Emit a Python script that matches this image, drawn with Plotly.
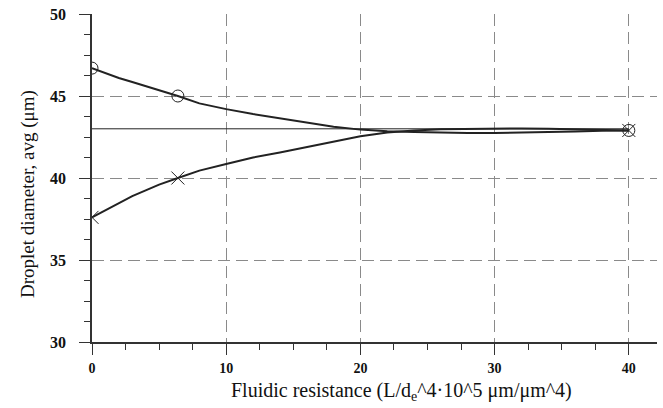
import plotly.graph_objects as go

# Data
x_vals = [0, 1, 2, 3, 4, 5, 6.4, 8, 10, 12, 14, 16, 18, 20, 22, 24, 26, 28, 30, 32, 34, 36, 38, 40]
upper_y = [46.7, 46.4, 46.1, 45.85, 45.6, 45.35, 45.0, 44.55, 44.2, 43.9, 43.65, 43.4, 43.12, 42.95,
           42.85, 42.8, 42.75, 42.74, 42.74, 42.76, 42.8, 42.84, 42.88, 42.9]
lower_y = [37.6, 38.05, 38.5, 38.9, 39.25, 39.6, 40.0, 40.45, 40.85, 41.25, 41.55, 41.88, 42.22, 42.54,
           42.78, 42.9, 42.97, 43.0, 43.02, 43.02, 43.0, 42.97, 42.93, 42.9]
marker_x = [0, 6.4, 40]
upper_marker_y = [46.7, 45.0, 42.9]
lower_marker_y = [37.6, 40.0, 42.9]
ref_x = [0, 40]
ref_y = [43, 43]
x_ticks = [0, 10, 20, 30, 40]
y_ticks = [30, 35, 40, 45, 50]

FONT = "Liberation Serif"
LINE = "#222222"

fig = go.Figure()
fig.add_trace(go.Scatter(x=ref_x, y=ref_y, mode="lines", line=dict(color=LINE, width=1), showlegend=False))
fig.add_trace(go.Scatter(x=x_vals, y=upper_y, mode="lines", line=dict(color=LINE, width=2), showlegend=False))
fig.add_trace(go.Scatter(x=x_vals, y=lower_y, mode="lines", line=dict(color=LINE, width=2), showlegend=False))
fig.add_trace(go.Scatter(x=marker_x, y=upper_marker_y, mode="markers",
                         marker=dict(symbol="circle-open", size=12, color=LINE, line=dict(width=1, color=LINE)),
                         showlegend=False))
fig.add_trace(go.Scatter(x=marker_x, y=lower_marker_y, mode="markers",
                         marker=dict(symbol="x-thin-open", size=13, color=LINE, line=dict(width=1, color=LINE)),
                         showlegend=False))

fig.update_layout(
    width=663, height=408,
    margin=dict(l=92, r=6, t=14, b=66),
    paper_bgcolor="white", plot_bgcolor="white",
    font=dict(family=FONT, color="#111111"),
    xaxis=dict(
        range=[0, 42.1], tickvals=x_ticks, ticks="outside", ticklen=11, tickwidth=1.2, tickcolor="#333",
        showline=True, linecolor="#333", linewidth=1.5,
        showgrid=True, gridcolor="#8a8a8a", gridwidth=1, griddash="12px,6px",
        zeroline=False, tickfont=dict(family=FONT, size=14, weight="bold"),
        ticklabelstandoff=1,
        minor=dict(dtick=2.5, tick0=0, ticks="outside", ticklen=6, tickcolor="#333", showgrid=False),
    ),
    yaxis=dict(
        range=[30, 50], tickvals=y_ticks, ticks="outside", ticklen=11, tickwidth=1.2, tickcolor="#333",
        showline=True, linecolor="#333", linewidth=1.5,
        showgrid=True, gridcolor="#8a8a8a", gridwidth=1, griddash="12px,6px",
        zeroline=False, tickfont=dict(family=FONT, size=16, weight="bold"),
        ticklabelstandoff=10,
        minor=dict(dtick=1.25, tick0=30, ticks="outside", ticklen=6, tickcolor="#333", showgrid=False),
    ),
    annotations=[
        dict(text="Fluidic resistance (L/d<sub>e</sub>^4·10^5 μm/μm^4)", xref="paper", yref="paper",
             x=(401 - 92) / 565, y=(342 - 391) / 328, xanchor="center", yanchor="middle",
             showarrow=False, font=dict(family=FONT, size=20, color="#111")),
        dict(text="Droplet diameter, avg (μm)", xref="paper", yref="paper", textangle=-90,
             x=(28 - 92) / 565, y=(342 - 194) / 328, xanchor="center", yanchor="middle",
             showarrow=False, font=dict(family=FONT, size=19, color="#111")),
    ],
)

fig.write_html("out.html")
